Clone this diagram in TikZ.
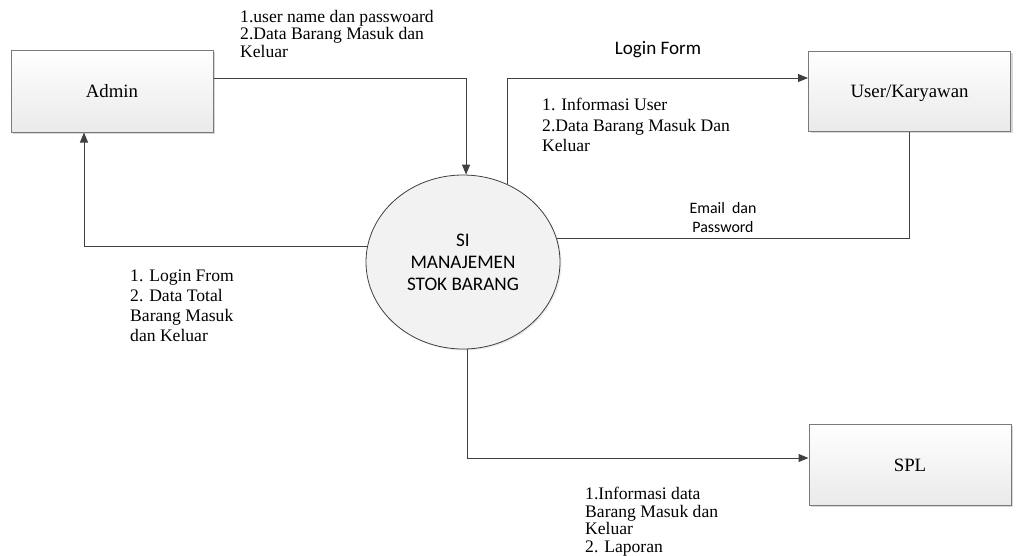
\documentclass[tikz,border=0pt]{standalone}
\usepackage{fontspec}
\setmainfont{Liberation Serif}
\setsansfont{Carlito}
\usetikzlibrary{shapes.geometric,arrows.meta,shadows}
\definecolor{linec}{HTML}{404040}
\definecolor{boxborder}{HTML}{7A7A7A}
\definecolor{boxbot}{HTML}{EAEAEA}
\definecolor{circfill}{HTML}{F2F2F2}
\begin{document}
\begin{tikzpicture}[x=1pt,y=-1pt,
  entity/.style={draw=boxborder, line width=1pt, top color=white, bottom color=boxbot,
    minimum width=202pt, minimum height=82pt, inner sep=0pt,
    text height=13pt, text depth=0pt,
    font={\fontsize{18.8}{22}\selectfont},
    drop shadow={shadow xshift=2pt, shadow yshift=-2pt, fill=black!30, opacity=.5}},
  process/.style={ellipse, draw=linec, line width=0.8pt, fill=circfill,
    minimum width=194pt, minimum height=174pt, inner sep=0pt, align=center,
    font={\sffamily\fontsize{19.2}{22}\selectfont},
    drop shadow={shadow xshift=1.5pt, shadow yshift=-1.5pt, fill=black!15, opacity=.5}},
  flow/.style={draw=linec, line width=1pt},
  arr/.style={flow, -{Triangle[length=10pt,width=8pt]}},
  lbl/.style={anchor=north west, inner sep=0pt, align=left},
  sanslbl/.style={inner sep=0pt, align=center, font=\sffamily},
]
\useasboundingbox (0,0) rectangle (1016,555);

\node[entity] (admin) at (112,91) {Admin};
\node[entity, minimum height=80pt] (user) at (909.5,91) {User/Karyawan};
\node[entity, minimum height=81pt] (spl) at (910,464.5) {SPL};
\node[process] (si) at (463,262) {SI\\MANAJEMEN\\STOK BARANG};

\coordinate (yadmin) at (0,78);
\coordinate (xret) at (84,0);
\coordinate (yuser) at (0,78);
\coordinate (yspl) at (0,458);

\draw[arr] (admin.east |- yadmin) -| (si.88.7);
\draw[arr] (si.171.1) -| (admin.south -| xret);
\draw[arr] (si.60.4) |- (user.west |- yuser);
\draw[flow] (user.south) |- (si.14.4);
\draw[arr] (si.273.3) |- (spl.west |- yspl);

\node[lbl, font={\fontsize{17.6}{17.5}\selectfont}] (l1) at (240,10)
  {1.user name dan passwoard\\2.Data Barang Masuk dan\\Keluar};
\node[sanslbl, font={\sffamily\fontsize{19.1}{22}\selectfont}] (l2) at (658,50) {Login Form};
\node[lbl, font={\fontsize{17.6}{20.5}\selectfont}] (l3) at (542,98)
  {1. Informasi User\\2.Data Barang Masuk Dan\\Keluar};
\node[sanslbl, font={\sffamily\fontsize{15.9}{19}\selectfont}] (l4) at (723,218)
  {Email\ \ dan\\Password};
\node[lbl, font={\fontsize{17.6}{20}\selectfont}] (l5) at (130,270)
  {1. Login From\\2. Data Total\\Barang Masuk\\dan Keluar};
\node[lbl, font={\fontsize{17.6}{17.5}\selectfont}] (l6) at (585,487)
  {1.Informasi data\\Barang Masuk dan\\Keluar\\2. Laporan};
\end{tikzpicture}
\end{document}
